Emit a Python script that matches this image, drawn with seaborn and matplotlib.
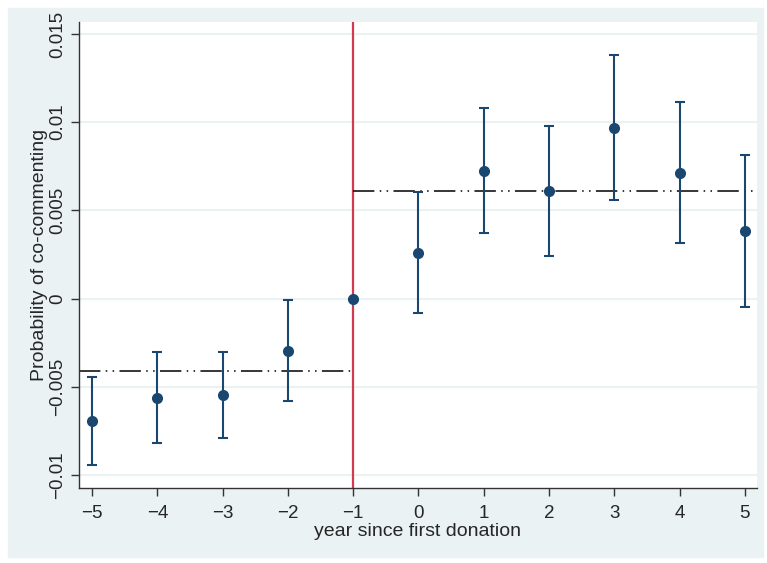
import numpy as np
import pandas as pd
import matplotlib
matplotlib.use('Agg')
import matplotlib.pyplot as plt
import matplotlib.patches as mpatches
import seaborn as sns

# event-study estimates
years = [-5, -4, -3, -2, -1, 0, 1, 2, 3, 4, 5]
coef = [-0.00693, -0.00563, -0.00545, -0.00295, 0.0, 0.00261, 0.00722, 0.00608, 0.00966, 0.0071, 0.00381]
ci_low = [-0.00943, -0.00818, -0.0079, -0.0058, 0.0, -0.0008, 0.00369, 0.0024, 0.00557, 0.00313, -0.00045]
ci_high = [-0.00443, -0.00301, -0.00301, -0.0001, 0.0, 0.00602, 0.0108, 0.00977, 0.0138, 0.01114, 0.00813]

# pre / post period averages (dash-dot lines)
pre_mean = -0.0041
post_mean = 0.0061
event_year = -1

yticks = [-0.01, -0.005, 0, 0.005, 0.01, 0.015]
ytick_labels = ['-0.01', '-0.005', '0', '0.005', '0.01', '0.015']

df = pd.DataFrame({'year': years, 'coef': coef, 'lo': ci_low, 'hi': ci_high})

sns.set_style('white')
plt.rcParams['font.family'] = ['Liberation Sans', 'DejaVu Sans']
plt.rcParams['axes.unicode_minus'] = True

navy = '#1a476f'
bg = '#eaf2f3'

fig = plt.figure(figsize=(7.67, 5.63), dpi=100)
fig.patch.set_facecolor('white')
outer = mpatches.Rectangle((8/767, 6/563), 755/767, 549/563,
                           transform=fig.transFigure, color=bg, zorder=-10)
fig.add_artist(outer)
ax = fig.add_axes([79/767, 75/563, 678/767, 466/563])
ax.set_zorder(1)
ax.set_facecolor('white')

xmin, xmax = -5.2, 5.185
ax.set_xlim(xmin, xmax)
ax.set_ylim(-0.01074, 0.01568)

for yv in yticks:
    ax.axhline(yv, color=bg, lw=1.5, zorder=0)

ax.axvline(event_year, color='#d43a4f', lw=1.6, zorder=1)

ax.plot([xmin, event_year], [pre_mean, pre_mean], color='black', lw=1.1,
        dashes=(14, 3.5, 1, 3.5, 1, 3.5), zorder=2)
ax.plot([event_year, xmax], [post_mean, post_mean], color='black', lw=1.1,
        dashes=(14, 3.5, 1, 3.5, 1, 3.5), zorder=2)

ax.errorbar(df['year'], df['coef'],
            yerr=[df['coef'] - df['lo'], df['hi'] - df['coef']],
            fmt='none', ecolor=navy, elinewidth=1.5, capsize=3.5, capthick=1.5, zorder=3)
sns.scatterplot(data=df, x='year', y='coef', color=navy, s=64, edgecolor=navy,
                linewidth=0, zorder=4, ax=ax)

ax.set_xticks(years)
ax.set_xticklabels([str(y).replace('-', '\u2212') for y in years], fontsize=13.5)
ax.set_yticks(yticks)
ax.set_yticklabels([t.replace('-', '\u2212') for t in ytick_labels], fontsize=13.5,
                   rotation=90, va='center')
ax.tick_params(axis='both', direction='out', length=6, width=1, color='#333333',
               left=True, bottom=True, pad=3)
ax.tick_params(axis='x', pad=6)

for s in ['top', 'right']:
    ax.spines[s].set_visible(False)
for s in ['left', 'bottom']:
    ax.spines[s].set_color('#333333')
    ax.spines[s].set_linewidth(1)

ax.set_xlabel('year since first donation', fontsize=14, labelpad=1)
ax.set_ylabel('Probability of co-commenting', fontsize=14, labelpad=1)

fig.savefig('out.png', dpi=100, facecolor=fig.get_facecolor())
